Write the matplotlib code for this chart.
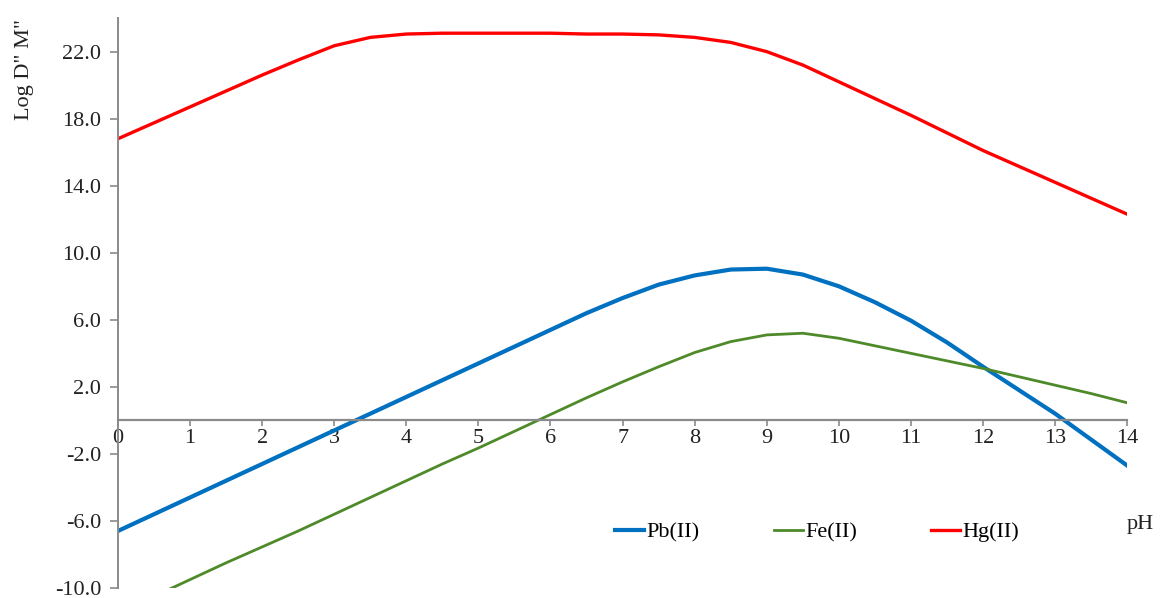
import numpy as np
import matplotlib.pyplot as plt

# pH grid and log D values
ph = [0, 0.5, 1, 1.5, 2, 2.5, 3, 3.5, 4, 4.5, 5, 5.5, 6, 6.5, 7,
      7.5, 8, 8.5, 9, 9.5, 10, 10.5, 11, 11.5, 12, 12.5, 13, 13.5, 14]

pb = [-6.6, -5.6, -4.6, -3.6, -2.6, -1.6, -0.6, 0.4, 1.4, 2.4, 3.4, 4.4, 5.4,
      6.4, 7.3, 8.1, 8.65, 9.0, 9.05, 8.7, 8.0, 7.05, 5.95, 4.65, 3.2,
      1.8, 0.4, -1.15, -2.7]
fe = [-11.5, -10.5, -9.5, -8.5, -7.55, -6.6, -5.6, -4.6, -3.6, -2.6, -1.65,
      -0.65, 0.35, 1.35, 2.3, 3.2, 4.05, 4.7, 5.1, 5.2, 4.9, 4.45, 4.0,
      3.55, 3.1, 2.6, 2.1, 1.6, 1.05]
hg = [16.8, 17.75, 18.7, 19.65, 20.6, 21.5, 22.35, 22.85, 23.05, 23.1, 23.1,
      23.1, 23.1, 23.05, 23.05, 23.0, 22.85, 22.55, 22.0, 21.2, 20.2, 19.2,
      18.2, 17.15, 16.1, 15.15, 14.2, 13.25, 12.3]

yticks = [-10, -6, -2, 2, 6, 10, 14, 18, 22]
xticks = list(range(0, 15))

plt.rcParams['font.family'] = ['Liberation Serif', 'DejaVu Serif']

fig = plt.figure(figsize=(11.67, 5.98), dpi=100)
ax = fig.add_axes([0.101, 0.0167, 0.865, 0.953])

ax.plot(ph, pb, color='#0070C0', lw=3.0, label='Pb(II)')
ax.plot(ph, fe, color='#4E8A2A', lw=2.0, label='Fe(II)')
ax.plot(ph, hg, color='#FF0000', lw=2.4, label='Hg(II)')

ax.set_xlim(0, 14)
ax.set_ylim(-10, 24)
ax.set_yticks(yticks)
ax.set_yticklabels([f'{v:.1f}' for v in yticks])
ax.set_xticks(xticks)

grey = '#8a8a8a'
for s in ['top', 'right']:
    ax.spines[s].set_visible(False)
ax.spines['bottom'].set_position(('data', 0))
ax.spines['bottom'].set_color(grey)
ax.spines['bottom'].set_linewidth(1.6)
ax.spines['left'].set_color(grey)
ax.spines['left'].set_linewidth(1.4)
ax.tick_params(axis='both', colors=grey, labelcolor='#222222', labelsize=16,
               width=1.2, direction='out')
ax.tick_params(axis='x', length=4, pad=2)
ax.tick_params(axis='y', length=6, pad=6)

ax.legend(loc='center left', bbox_to_anchor=(0.4926, 0.098), ncol=3,
          frameon=False, fontsize=16, handlelength=1.3, handletextpad=0.1,
          columnspacing=3.35, borderpad=0, borderaxespad=0)

fig.text(25 / 1167, 1 - 69 / 598, 'Log D" M"', rotation=90, fontsize=16,
         ha='center', va='center', color='#222222')
fig.text(1140 / 1167, 1 - 525 / 598, 'pH', fontsize=16,
         ha='center', va='center', color='#222222')

fig.savefig('out.png', dpi=100)
